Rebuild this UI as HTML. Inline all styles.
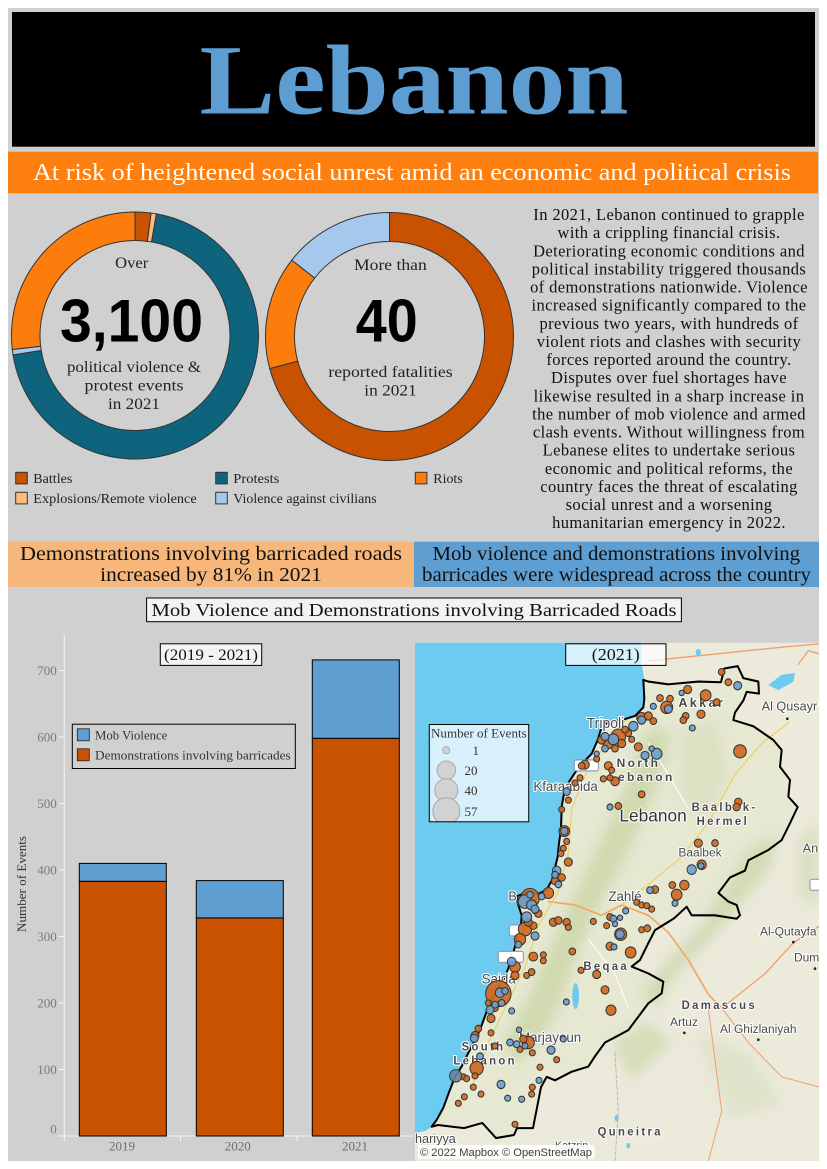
<!DOCTYPE html>
<html><head><meta charset="utf-8">
<style>
html,body{margin:0;padding:0;background:#fff;width:827px;height:1169px;overflow:hidden}
svg{display:block}
</style></head>
<body>
<svg width="827" height="1169" viewBox="0 0 827 1169" xmlns="http://www.w3.org/2000/svg">
<defs>
<clipPath id="mapclip"><rect x="415" y="642.7" width="404" height="518.3"/></clipPath>
<clipPath id="legclip"><rect x="429.3" y="724.5" width="99.4" height="97.3"/></clipPath>
<filter id="soft" x="-20%" y="-20%" width="140%" height="140%"><feGaussianBlur stdDeviation="18"/></filter>
</defs>
<rect x="8" y="8" width="811" height="1153" fill="#d0d0d0"/>
<!-- header -->
<rect x="12" y="12" width="803" height="134.7" fill="#000"/>
<text x="414" y="113.3" text-anchor="middle" font-family="'Liberation Serif',serif" font-weight="bold" font-size="100" fill="#5e9dd2" textLength="429" lengthAdjust="spacingAndGlyphs">Lebanon</text>
<rect x="8" y="151.7" width="810" height="41.6" fill="#fd7f0f"/>
<text x="412" y="180" text-anchor="middle" font-family="'Liberation Serif',serif" font-size="24" fill="#fff" textLength="758" lengthAdjust="spacingAndGlyphs">At risk of heightened social unrest amid an economic and political crisis</text>

<!-- donuts -->
<g stroke="#333" stroke-width="1">
<path d="M135,212 A123.5,123.5 0 0 1 151.12,213.06 L147.40,241.32 A95,95 0 0 0 135,240.5 Z" fill="#c85200"/>
<path d="M151.12,213.06 A123.5,123.5 0 0 1 156.44,213.88 L151.49,241.94 A95,95 0 0 0 147.40,241.32 Z" fill="#ffbc79"/>
<path d="M156.44,213.88 A123.5,123.5 0 1 1 13.02,354.82 L41.17,350.36 A95,95 0 1 0 151.49,241.94 Z" fill="#0f647d"/>
<path d="M13.02,354.82 A123.5,123.5 0 0 1 12.29,349.48 L40.61,346.25 A95,95 0 0 0 41.17,350.36 Z" fill="#a5c8ec"/>
<path d="M12.29,349.48 A123.5,123.5 0 0 1 135,212 L135,240.5 A95,95 0 0 0 40.61,346.25 Z" fill="#fc7d0b"/>
<path d="M389.5,212.5 A124,124 0 1 1 269.73,368.59 L297.74,361.09 A95,95 0 1 0 389.5,241.5 Z" fill="#c85200"/>
<path d="M269.73,368.59 A124,124 0 0 1 291.79,260.15 L314.64,278.01 A95,95 0 0 0 297.74,361.09 Z" fill="#fc7d0b"/>
<path d="M291.79,260.15 A124,124 0 0 1 389.5,212.5 L389.5,241.5 A95,95 0 0 0 314.64,278.01 Z" fill="#a5c8ec"/>
</g>
<g font-family="'Liberation Serif',serif" fill="#222" text-anchor="middle" font-size="16">
<text x="131.7" y="268" textLength="33" lengthAdjust="spacingAndGlyphs">Over</text>
<text x="134" y="372" textLength="134" lengthAdjust="spacingAndGlyphs">political violence &amp;</text>
<text x="134" y="390.5" textLength="99" lengthAdjust="spacingAndGlyphs">protest events</text>
<text x="134" y="409" textLength="52" lengthAdjust="spacingAndGlyphs">in 2021</text>
<text x="390.4" y="270" textLength="72.7" lengthAdjust="spacingAndGlyphs">More than</text>
<text x="390.5" y="377" textLength="124.3" lengthAdjust="spacingAndGlyphs">reported fatalities</text>
<text x="390.5" y="395.5" textLength="52.4" lengthAdjust="spacingAndGlyphs">in 2021</text>
</g>
<g font-family="'Liberation Sans',sans-serif" font-weight="bold" font-size="60" fill="#000" text-anchor="middle">
<text x="131.5" y="341.7" textLength="143" lengthAdjust="spacingAndGlyphs">3,100</text>
<text x="386.8" y="341.7" textLength="62" lengthAdjust="spacingAndGlyphs">40</text>
</g>
<!-- donut legend -->
<g stroke="#333" stroke-width="1">
<rect x="15.7" y="472.3" width="11.6" height="11.6" fill="#c85200"/>
<rect x="215.7" y="472.3" width="11.6" height="11.6" fill="#0f647d"/>
<rect x="415.3" y="472.3" width="11.6" height="11.6" fill="#fc7d0b"/>
<rect x="15.7" y="492.3" width="11.6" height="11.6" fill="#ffbc79"/>
<rect x="215.7" y="492.3" width="11.6" height="11.6" fill="#a5c8ec"/>
</g>
<g font-family="'Liberation Serif',serif" fill="#222" font-size="14">
<text x="33.3" y="483" textLength="39" lengthAdjust="spacingAndGlyphs">Battles</text>
<text x="233.3" y="483" textLength="46" lengthAdjust="spacingAndGlyphs">Protests</text>
<text x="433.3" y="483" textLength="29.4" lengthAdjust="spacingAndGlyphs">Riots</text>
<text x="33.3" y="503" textLength="163.4" lengthAdjust="spacingAndGlyphs">Explosions/Remote violence</text>
<text x="233.3" y="503" textLength="143.4" lengthAdjust="spacingAndGlyphs">Violence against civilians</text>
</g>
<!-- paragraph -->
<g font-family="'Liberation Serif',serif" fill="#111" font-size="16.5" text-anchor="middle" letter-spacing="0.4">
<text x="669" y="220">In 2021, Lebanon continued to grapple</text>
<text x="669" y="238.1">with a crippling financial crisis.</text>
<text x="669" y="256.3">Deteriorating economic conditions and</text>
<text x="669" y="274.4">political instability triggered thousands</text>
<text x="669" y="292.5">of demonstrations nationwide. Violence</text>
<text x="669" y="310.7">increased significantly compared to the</text>
<text x="669" y="328.8">previous two years, with hundreds of</text>
<text x="669" y="346.9">violent riots and clashes with security</text>
<text x="669" y="365">forces reported around the country.</text>
<text x="669" y="383.2">Disputes over fuel shortages have</text>
<text x="669" y="401.3">likewise resulted in a sharp increase in</text>
<text x="669" y="419.4">the number of mob violence and armed</text>
<text x="669" y="437.6">clash events. Without willingness from</text>
<text x="669" y="455.7">Lebanese elites to undertake serious</text>
<text x="669" y="473.8">economic and political reforms, the</text>
<text x="669" y="492">country faces the threat of escalating</text>
<text x="669" y="510.1">social unrest and a worsening</text>
<text x="669" y="528.2">humanitarian emergency in 2022.</text>
</g>
<!-- banners -->
<rect x="8" y="541.7" width="406" height="45.3" fill="#f7b77a"/>
<rect x="414" y="541.7" width="405" height="45.3" fill="#5f9ed1"/>
<g font-family="'Liberation Serif',serif" fill="#111" font-size="19.5" text-anchor="middle">
<text x="211" y="560" textLength="382" lengthAdjust="spacingAndGlyphs">Demonstrations involving barricaded roads</text>
<text x="211" y="581" textLength="221.7" lengthAdjust="spacingAndGlyphs">increased by 81% in 2021</text>
<text x="616.3" y="560" textLength="367.5" lengthAdjust="spacingAndGlyphs">Mob violence and demonstrations involving</text>
<text x="616.5" y="581" textLength="389" lengthAdjust="spacingAndGlyphs">barricades were widespread across the country</text>
</g>
<rect x="146.6" y="598" width="534.8" height="23.7" fill="#f3f3f3" stroke="#000" stroke-width="1"/>
<text x="414" y="616" text-anchor="middle" font-family="'Liberation Serif',serif" font-size="18" fill="#111" textLength="525" lengthAdjust="spacingAndGlyphs">Mob Violence and Demonstrations involving Barricaded Roads</text>

<!-- bar chart -->
<g stroke="#f4f4f4" stroke-width="1" fill="none">
<line x1="64.3" y1="635" x2="64.3" y2="1136"/>
<line x1="64" y1="1136" x2="413" y2="1136"/>
<line x1="58.5" y1="670.5" x2="64.3" y2="670.5"/>
<line x1="58.5" y1="737" x2="64.3" y2="737"/>
<line x1="58.5" y1="803.5" x2="64.3" y2="803.5"/>
<line x1="58.5" y1="870" x2="64.3" y2="870"/>
<line x1="58.5" y1="936.5" x2="64.3" y2="936.5"/>
<line x1="58.5" y1="1003" x2="64.3" y2="1003"/>
<line x1="58.5" y1="1069.5" x2="64.3" y2="1069.5"/>
<line x1="58.5" y1="1136" x2="64.3" y2="1136"/>
<line x1="64.3" y1="1136" x2="64.3" y2="1141"/>
<line x1="180.5" y1="1136" x2="180.5" y2="1141"/>
<line x1="297" y1="1136" x2="297" y2="1141"/>
</g>
<g stroke="#000" stroke-width="1">
<rect x="79.3" y="881.3" width="87" height="254.7" fill="#c85200"/>
<rect x="79.3" y="863.4" width="87" height="17.9" fill="#5f9ed1"/>
<rect x="196.3" y="917.9" width="87" height="218.1" fill="#c85200"/>
<rect x="196.3" y="880.6" width="87" height="37.3" fill="#5f9ed1"/>
<rect x="312.3" y="738.3" width="87" height="397.7" fill="#c85200"/>
<rect x="312.3" y="659.9" width="87" height="78.4" fill="#5f9ed1"/>
</g>
<g font-family="'Liberation Serif',serif" fill="#7a7a7a" font-size="13" text-anchor="end">
<text x="56.7" y="675">700</text>
<text x="56.7" y="741.5">600</text>
<text x="56.7" y="808">500</text>
<text x="56.7" y="874.5">400</text>
<text x="56.7" y="941">300</text>
<text x="56.7" y="1007.5">200</text>
<text x="56.7" y="1074">100</text>
<text x="56.7" y="1133.5">0</text>
</g>
<g font-family="'Liberation Serif',serif" fill="#6e6e6e" font-size="13" text-anchor="middle">
<text x="122" y="1150.5">2019</text>
<text x="237.8" y="1150.5">2020</text>
<text x="355" y="1150.5">2021</text>
</g>
<text transform="translate(26,884) rotate(-90)" text-anchor="middle" font-family="'Liberation Serif',serif" font-size="13" fill="#333" textLength="96" lengthAdjust="spacingAndGlyphs">Number of Events</text>
<rect x="160.3" y="643.8" width="101.4" height="21.6" fill="#f3f3f3" stroke="#000" stroke-width="1"/>
<text x="211" y="660" text-anchor="middle" font-family="'Liberation Serif',serif" font-size="16" fill="#111" textLength="94" lengthAdjust="spacingAndGlyphs">(2019 - 2021)</text>
<rect x="72.3" y="724.2" width="223" height="44.3" fill="none" stroke="#000" stroke-width="1"/>
<rect x="77.3" y="728.8" width="12" height="12" fill="#5f9ed1" stroke="#222" stroke-width="0.8"/>
<rect x="77.3" y="748.8" width="12" height="12" fill="#c85200" stroke="#222" stroke-width="0.8"/>
<g font-family="'Liberation Serif',serif" fill="#333" font-size="13">
<text x="95" y="739.3" textLength="72.3" lengthAdjust="spacingAndGlyphs">Mob Violence</text>
<text x="95" y="759.3" textLength="195.7" lengthAdjust="spacingAndGlyphs">Demonstrations involving barricades</text>
</g>

<!-- map -->
<g clip-path="url(#mapclip)">
<g transform="translate(415,630) scale(0.33333,0.34375)">
<rect x="0" y="0" width="1215" height="1560" fill="#ebeadb"/>
<path d="M685,145 L700,150 L760,158 L850,150 L918,152 L928,112 L968,105 L985,140 L1030,150 L1032,185 L995,180 L985,205 L960,240 L955,262 L1015,280 L1075,320 L1100,349 L1095,398 L1125,436 L1120,485 L1148,515 L1125,562 L1100,611 L1060,640 L1040,650 L1000,670 L990,700 L945,720 L910,765 L940,790 L965,800 L975,830 L965,840 L900,830 L830,830 L815,805 L777,839 L720,873 L700,911 L675,960 L650,979 L700,999 L745,1023 L740,1057 L700,1086 L670,1125 L640,1164 L600,1185 L570,1200 L540,1240 L520,1270 L470,1285 L420,1310 L395,1300 L378,1330 L354,1449 L306,1449 L297,1469 L243,1478 L202,1434 L147,1449 L69,1440 L50,1445 L65,1425 L85,1390 L100,1350 L120,1300 L140,1270 L160,1230 L185,1185 L200,1150 L215,1110 L230,1080 L250,1040 L270,1010 L285,970 L295,940 L305,900 L318,860 L320,830 L310,800 L305,775 L330,765 L370,768 L395,755 L410,730 L418,700 L428,660 L432,620 L438,580 L440,514 L448,470 L460,445 L480,415 L505,385 L530,360 L548,320 L560,282 L580,268 L620,262 L660,250 L685,225 L688,200 Z" fill="#e6e8d2"/>
<!-- relief (soft) -->
<g filter="url(#soft)">
<path d="M700,280 L770,300 L730,450 L660,600 L610,700 L550,800 L480,950 L430,1100 L370,1200 L300,1270 L265,1200 L335,1080 L395,950 L455,820 L515,700 L575,580 L635,450 Z" fill="#c9d4a4" opacity="0.75"/>
<path d="M1000,640 L1085,600 L1060,700 L955,820 L885,900 L785,1000 L725,1100 L680,1060 L760,960 L860,860 Z" fill="#c9d4a4" opacity="0.7"/>
<path d="M590,1200 L700,1140 L770,1200 L650,1310 Z" fill="#c9d4a4" opacity="0.6"/>
<path d="M1150,600 L1215,560 L1215,800 L1150,780 Z" fill="#d0d8b4" opacity="0.6"/>
<path d="M840,1180 L1000,1230 L1100,1380 L950,1420 Z" fill="#d8ddc0" opacity="0.6"/>
<path d="M800,300 L900,260 L940,420 L860,560 L800,480 Z" fill="#d6dcb8" opacity="0.6"/>
</g>
<!-- roads -->
<g fill="none" stroke-linecap="round" stroke-linejoin="round">
<path d="M400,790 L480,800 L560,830 L620,800 L700,830 L760,880 L820,960 L880,1060 L920,1100" stroke="#f0a862" stroke-width="5"/>
<path d="M690,200 L600,300 L520,400 L470,520 L460,650 L430,760 L370,860 L330,980 L280,1080 L220,1200 L170,1330" stroke="#f2cf70" stroke-width="4"/>
<path d="M620,800 L700,740 L800,660 L880,560 L960,420 L1040,330 L1120,270" stroke="#f2cf70" stroke-width="4"/>
<path d="M700,90 L900,70 L1100,50 L1215,40" stroke="#f0a070" stroke-width="4"/>
<path d="M1150,100 L1180,60 L1215,70" stroke="#f0a070" stroke-width="4"/>
<path d="M920,1100 L1050,1000 L1135,910 L1215,860" stroke="#f0a070" stroke-width="4"/>
<path d="M880,1100 L900,1250 L920,1400 L880,1545" stroke="#f0a070" stroke-width="3"/>
<path d="M920,1100 L1000,1200 L1100,1300 L1215,1330" stroke="#f0a070" stroke-width="3"/>
<path d="M600,1230 L610,1400 L600,1545" stroke="#b8b8c8" stroke-width="3" stroke-dasharray="10,6"/>
<path d="M700,330 L760,420 L820,520" stroke="#ffffff" stroke-width="3"/>
<path d="M520,900 L600,1000 L640,1100" stroke="#ffffff" stroke-width="3"/>
</g>
<!-- lakes -->
<ellipse cx="482" cy="1065" rx="10" ry="38" fill="#6ccbee"/>
<path d="M1060,160 L1100,130 L1140,125 L1135,150 L1090,175 Z" fill="#6ccbee"/>
<ellipse cx="850" cy="65" rx="8" ry="10" fill="#6ccbee"/>
<ellipse cx="605" cy="1420" rx="6" ry="10" fill="#6ccbee"/>
<ellipse cx="640" cy="1500" rx="6" ry="8" fill="#6ccbee"/>
<!-- ocean -->
<path d="M0,0 L676,0 L680,100 L688,145 L688,200 L685,225 L660,250 L620,262 L580,268 L560,282 L548,320 L530,360 L505,385 L480,415 L460,445 L448,470 L440,514 L438,580 L432,620 L428,660 L418,700 L410,730 L395,755 L370,768 L330,765 L305,775 L310,800 L320,830 L318,860 L305,900 L295,940 L285,970 L270,1010 L250,1040 L230,1080 L215,1110 L200,1150 L185,1185 L160,1230 L140,1270 L120,1300 L100,1350 L85,1390 L65,1425 L50,1445 L30,1458 L0,1462 Z" fill="#6ccbee"/>
<!-- border -->
<path d="M685,145 L700,150 L760,158 L850,150 L918,152 L928,112 L968,105 L985,140 L1030,150 L1032,185 L995,180 L985,205 L960,240 L955,262 L1015,280 L1075,320 L1100,349 L1095,398 L1125,436 L1120,485 L1148,515 L1125,562 L1100,611 L1060,640 L1040,650 L1000,670 L990,700 L945,720 L910,765 L940,790 L965,800 L975,830 L965,840 L900,830 L830,830 L815,805 L777,839 L720,873 L700,911 L675,960 L650,979 L700,999 L745,1023 L740,1057 L700,1086 L670,1125 L640,1164 L600,1185 L570,1200 L540,1240 L520,1270 L470,1285 L420,1310 L395,1300 L378,1330 L354,1449 L306,1449 L297,1469 L243,1478 L202,1434 L147,1449 L69,1440 L50,1445 L65,1425 L85,1390 L100,1350 L120,1300 L140,1270 L160,1230 L185,1185 L200,1150 L215,1110 L230,1080 L250,1040 L270,1010 L285,970 L295,940 L305,900 L318,860 L320,830 L310,800 L305,775 L330,765 L370,768 L395,755 L410,730 L418,700 L428,660 L432,620 L438,580 L440,514 L448,470 L460,445 L480,415 L505,385 L530,360 L548,320 L560,282 L580,268 L620,262 L660,250 L685,225 L688,200 Z" fill="none" stroke="#000" stroke-width="6" stroke-linejoin="round"/>
<!-- road shields -->
<g fill="#fff" stroke="#8890b0" stroke-width="3">
<rect x="478" y="378" width="72" height="32" rx="6"/>
<rect x="283" y="858" width="40" height="32" rx="6"/>
<rect x="250" y="935" width="75" height="32" rx="6"/>
<rect x="1185" y="725" width="40" height="32" rx="6"/>
</g>
<!-- labels -->
<g font-family="'Liberation Sans',sans-serif" fill="#4a4a4a" stroke="#fff" stroke-width="6" paint-order="stroke" stroke-linejoin="round">
<text x="1040" y="234" font-size="38">Al Qusayr</text>
<text x="790" y="224" font-size="38" font-weight="bold" letter-spacing="7">Akkar</text>
<text x="515" y="285" font-size="42">Tripoli</text>
<text x="605" y="399" font-size="36" font-weight="bold" letter-spacing="7">North</text>
<text x="580" y="439" font-size="36" font-weight="bold" letter-spacing="7">Lebanon</text>
<text x="355" y="469" font-size="40">Kfaraabida</text>
<text x="613" y="557" font-size="52" fill="#333">Lebanon</text>
<text x="830" y="527" font-size="34" font-weight="bold" letter-spacing="7">Baalbek-</text>
<text x="845" y="567" font-size="34" font-weight="bold" letter-spacing="7">Hermel</text>
<text x="790" y="659" font-size="36">Baalbek</text>
<text x="1163" y="647" font-size="38">An</text>
<text x="580" y="789" font-size="40">Zahlé</text>
<text x="1035" y="889" font-size="36">Al-Qutayfa</text>
<text x="1137" y="964" font-size="36">Dum</text>
<text x="505" y="989" font-size="34" font-weight="bold" letter-spacing="7">Beqaa</text>
<text x="200" y="1029" font-size="40">Saida</text>
<text x="312" y="1199" font-size="40">Marjayoun</text>
<text x="140" y="1224" font-size="34" font-weight="bold" letter-spacing="7">South</text>
<text x="115" y="1264" font-size="34" font-weight="bold" letter-spacing="7">Lebanon</text>
<text x="800" y="1102" font-size="34" font-weight="bold" letter-spacing="7">Damascus</text>
<text x="765" y="1152" font-size="36">Artuz</text>
<text x="915" y="1172" font-size="36">Al Ghizlaniyah</text>
<text x="548" y="1470" font-size="34" font-weight="bold" letter-spacing="7">Quneitra</text>
<text x="0" y="1492" font-size="38">hariyya</text>
<text x="420" y="1510" font-size="32">Katzrin</text>
<text x="280" y="787" font-size="38">B</text>
</g>
<g fill="#222">
<circle cx="1117" cy="258" r="4"/><circle cx="1135" cy="908" r="4"/><circle cx="1200" cy="985" r="4"/><circle cx="808" cy="1172" r="4"/><circle cx="1030" cy="1192" r="4"/>
</g>
<!-- event circles -->
<g stroke="#333" stroke-width="3" fill-opacity="0.92">
<circle cx="250" cy="1058" r="38" fill="#d06820"/>
<circle cx="345" cy="780" r="28" fill="#d06820"/>
<circle cx="975" cy="353" r="19" fill="#d06820"/>
<circle cx="610" cy="310" r="22" fill="#d06820"/>
<circle cx="872" cy="190" r="16" fill="#d06820"/>
<circle cx="185" cy="1275" r="20" fill="#d06820"/>
<circle cx="340" cy="1200" r="18" fill="#d06820"/>
<circle cx="330" cy="870" r="20" fill="#d06820"/>
<circle cx="315" cy="900" r="17" fill="#d06820"/>
<circle cx="755" cy="225" r="18" fill="#d06820"/>
<circle cx="785" cy="770" r="16" fill="#d06820"/>
<circle cx="647" cy="938" r="16" fill="#d06820"/>
<circle cx="617" cy="885" r="18" fill="#d06820"/>
<circle cx="588" cy="1106" r="15" fill="#d06820"/>
<circle cx="680" cy="255" r="15" fill="#d06820"/>
<circle cx="580" cy="330" r="15" fill="#d06820"/>
<circle cx="400" cy="765" r="16" fill="#d06820"/>
<circle cx="860" cy="683" r="14" fill="#d06820"/>
<circle cx="808" cy="742" r="14" fill="#d06820"/>
<circle cx="300" cy="980" r="16" fill="#d06820"/>
<circle cx="448" cy="585" r="16" fill="#d06820"/>
<circle cx="920" cy="122" r="10" fill="#d06820"/><circle cx="940" cy="152" r="10" fill="#d06820"/><circle cx="818" cy="173" r="12" fill="#d06820"/><circle cx="905" cy="210" r="10" fill="#d06820"/><circle cx="735" cy="198" r="10" fill="#d06820"/><circle cx="765" cy="200" r="10" fill="#d06820"/><circle cx="812" cy="250" r="10" fill="#d06820"/><circle cx="805" cy="262" r="10" fill="#d06820"/><circle cx="858" cy="245" r="12" fill="#d06820"/><circle cx="700" cy="250" r="12" fill="#d06820"/><circle cx="715" cy="265" r="10" fill="#d06820"/><circle cx="640" cy="300" r="10" fill="#d06820"/><circle cx="650" cy="318" r="9" fill="#d06820"/><circle cx="670" cy="340" r="12" fill="#d06820"/><circle cx="600" cy="345" r="10" fill="#d06820"/><circle cx="545" cy="375" r="9" fill="#d06820"/><circle cx="580" cy="395" r="12" fill="#d06820"/><circle cx="510" cy="392" r="13" fill="#d06820"/><circle cx="500" cy="395" r="10" fill="#d06820"/><circle cx="590" cy="408" r="9" fill="#d06820"/><circle cx="600" cy="440" r="13" fill="#d06820"/><circle cx="565" cy="433" r="9" fill="#d06820"/><circle cx="585" cy="430" r="9" fill="#d06820"/><circle cx="495" cy="430" r="9" fill="#d06820"/><circle cx="480" cy="445" r="9" fill="#d06820"/><circle cx="460" cy="495" r="9" fill="#d06820"/><circle cx="440" cy="522" r="9" fill="#d06820"/><circle cx="680" cy="478" r="10" fill="#d06820"/><circle cx="610" cy="512" r="10" fill="#d06820"/><circle cx="970" cy="500" r="11" fill="#d06820"/><circle cx="965" cy="515" r="11" fill="#d06820"/><circle cx="455" cy="615" r="9" fill="#d06820"/><circle cx="445" cy="635" r="9" fill="#d06820"/><circle cx="438" cy="650" r="9" fill="#d06820"/><circle cx="460" cy="675" r="12" fill="#d06820"/><circle cx="440" cy="720" r="11" fill="#d06820"/><circle cx="420" cy="730" r="11" fill="#d06820"/><circle cx="850" cy="620" r="12" fill="#d06820"/><circle cx="900" cy="620" r="10" fill="#d06820"/><circle cx="370" cy="825" r="11" fill="#d06820"/><circle cx="355" cy="860" r="11" fill="#d06820"/><circle cx="415" cy="850" r="12" fill="#d06820"/><circle cx="430" cy="845" r="11" fill="#d06820"/><circle cx="455" cy="850" r="11" fill="#d06820"/><circle cx="460" cy="865" r="9" fill="#d06820"/><circle cx="535" cy="848" r="9" fill="#d06820"/><circle cx="575" cy="860" r="9" fill="#d06820"/><circle cx="585" cy="835" r="10" fill="#d06820"/><circle cx="665" cy="792" r="9" fill="#d06820"/><circle cx="680" cy="800" r="9" fill="#d06820"/><circle cx="695" cy="802" r="9" fill="#d06820"/><circle cx="710" cy="812" r="9" fill="#d06820"/><circle cx="720" cy="755" r="11" fill="#d06820"/><circle cx="772" cy="742" r="10" fill="#d06820"/><circle cx="585" cy="920" r="12" fill="#d06820"/><circle cx="472" cy="935" r="10" fill="#d06820"/><circle cx="680" cy="872" r="9" fill="#d06820"/><circle cx="697" cy="868" r="10" fill="#d06820"/><circle cx="355" cy="950" r="13" fill="#d06820"/><circle cx="385" cy="945" r="9" fill="#d06820"/><circle cx="385" cy="962" r="9" fill="#d06820"/><circle cx="300" cy="1005" r="12" fill="#d06820"/><circle cx="335" cy="1005" r="9" fill="#d06820"/><circle cx="350" cy="995" r="10" fill="#d06820"/><circle cx="498" cy="990" r="9" fill="#d06820"/><circle cx="545" cy="1002" r="12" fill="#d06820"/><circle cx="570" cy="1047" r="12" fill="#d06820"/><circle cx="228" cy="1130" r="12" fill="#d06820"/><circle cx="190" cy="1160" r="10" fill="#d06820"/><circle cx="180" cy="1180" r="12" fill="#d06820"/><circle cx="228" cy="1172" r="9" fill="#d06820"/><circle cx="325" cy="1190" r="11" fill="#d06820"/><circle cx="352" cy="1230" r="9" fill="#d06820"/><circle cx="315" cy="1220" r="9" fill="#d06820"/><circle cx="240" cy="1210" r="9" fill="#d06820"/><circle cx="180" cy="1297" r="9" fill="#d06820"/><circle cx="145" cy="1300" r="9" fill="#d06820"/><circle cx="155" cy="1305" r="9" fill="#d06820"/><circle cx="425" cy="1250" r="9" fill="#d06820"/><circle cx="375" cy="1272" r="9" fill="#d06820"/><circle cx="175" cy="1330" r="9" fill="#d06820"/><circle cx="198" cy="1350" r="9" fill="#d06820"/><circle cx="352" cy="1330" r="9" fill="#d06820"/><circle cx="350" cy="1350" r="9" fill="#d06820"/><circle cx="148" cy="1358" r="9" fill="#d06820"/><circle cx="130" cy="1377" r="9" fill="#d06820"/><circle cx="300" cy="1438" r="9" fill="#d06820"/><circle cx="630" cy="290" r="10" fill="#d06820"/><circle cx="620" cy="330" r="12" fill="#d06820"/><circle cx="560" cy="320" r="12" fill="#d06820"/><circle cx="240" cy="1100" r="10" fill="#d06820"/><circle cx="220" cy="1085" r="9" fill="#d06820"/><circle cx="360" cy="815" r="10" fill="#d06820"/><circle cx="320" cy="790" r="14" fill="#d06820"/><circle cx="340" cy="850" r="12" fill="#d06820"/>
<circle cx="330" cy="790" r="20" fill="#6ea0cd"/>
<circle cx="760" cy="230" r="12" fill="#6ea0cd"/>
<circle cx="615" cy="885" r="13" fill="#6ea0cd"/>
<circle cx="725" cy="360" r="16" fill="#6ea0cd"/>
<circle cx="655" cy="280" r="14" fill="#6ea0cd"/>
<circle cx="595" cy="318" r="16" fill="#6ea0cd"/>
<circle cx="858" cy="686" r="9" fill="#6ea0cd"/>
<circle cx="830" cy="697" r="14" fill="#6ea0cd"/>
<circle cx="448" cy="585" r="11" fill="#6ea0cd"/>
<circle cx="425" cy="700" r="13" fill="#6ea0cd"/>
<circle cx="290" cy="965" r="13" fill="#6ea0cd"/>
<circle cx="335" cy="835" r="15" fill="#6ea0cd"/>
<circle cx="255" cy="1055" r="14" fill="#6ea0cd"/>
<circle cx="122" cy="1297" r="18" fill="#6a86a0"/>
<circle cx="968" cy="162" r="12" fill="#6ea0cd"/><circle cx="715" cy="222" r="9" fill="#6ea0cd"/><circle cx="800" cy="183" r="8" fill="#6ea0cd"/><circle cx="832" cy="285" r="9" fill="#6ea0cd"/><circle cx="680" cy="262" r="12" fill="#6ea0cd"/><circle cx="570" cy="310" r="12" fill="#6ea0cd"/><circle cx="570" cy="345" r="10" fill="#6ea0cd"/><circle cx="690" cy="365" r="12" fill="#6ea0cd"/><circle cx="710" cy="345" r="8" fill="#6ea0cd"/><circle cx="545" cy="360" r="8" fill="#6ea0cd"/><circle cx="455" cy="470" r="11" fill="#6ea0cd"/><circle cx="585" cy="515" r="9" fill="#6ea0cd"/><circle cx="430" cy="740" r="10" fill="#6ea0cd"/><circle cx="380" cy="775" r="10" fill="#6ea0cd"/><circle cx="350" cy="800" r="15" fill="#6ea0cd"/><circle cx="360" cy="812" r="12" fill="#6ea0cd"/><circle cx="360" cy="890" r="12" fill="#6ea0cd"/><circle cx="310" cy="915" r="10" fill="#6ea0cd"/><circle cx="595" cy="840" r="10" fill="#6ea0cd"/><circle cx="615" cy="837" r="8" fill="#6ea0cd"/><circle cx="632" cy="817" r="9" fill="#6ea0cd"/><circle cx="600" cy="855" r="8" fill="#6ea0cd"/><circle cx="705" cy="757" r="10" fill="#6ea0cd"/><circle cx="780" cy="795" r="9" fill="#6ea0cd"/><circle cx="597" cy="922" r="9" fill="#6ea0cd"/><circle cx="270" cy="1050" r="10" fill="#6ea0cd"/><circle cx="240" cy="1090" r="10" fill="#6ea0cd"/><circle cx="260" cy="1085" r="10" fill="#6ea0cd"/><circle cx="454" cy="1082" r="9" fill="#6ea0cd"/><circle cx="225" cy="1105" r="12" fill="#6ea0cd"/><circle cx="290" cy="1108" r="9" fill="#6ea0cd"/><circle cx="178" cy="1188" r="12" fill="#6ea0cd"/><circle cx="312" cy="1163" r="8" fill="#6ea0cd"/><circle cx="330" cy="1210" r="9" fill="#6ea0cd"/><circle cx="305" cy="1205" r="10" fill="#6ea0cd"/><circle cx="285" cy="1200" r="10" fill="#6ea0cd"/><circle cx="408" cy="1222" r="12" fill="#6ea0cd"/><circle cx="445" cy="1190" r="9" fill="#6ea0cd"/><circle cx="195" cy="1240" r="10" fill="#6ea0cd"/><circle cx="372" cy="1310" r="9" fill="#6ea0cd"/><circle cx="258" cy="1322" r="12" fill="#6ea0cd"/><circle cx="278" cy="1362" r="9" fill="#6ea0cd"/><circle cx="320" cy="1365" r="9" fill="#6ea0cd"/><circle cx="420" cy="712" r="10" fill="#6ea0cd"/><circle cx="345" cy="770" r="10" fill="#6ea0cd"/>
</g>
</g>
</g>
<!-- map overlays -->
<rect x="565.7" y="643.8" width="100.3" height="21.6" fill="#ffffff" fill-opacity="0.72" stroke="#000" stroke-width="1"/>
<text x="615.8" y="660" text-anchor="middle" font-family="'Liberation Serif',serif" font-size="17" fill="#111" textLength="48" lengthAdjust="spacingAndGlyphs">(2021)</text>
<rect x="429.3" y="724.5" width="99.4" height="97.3" fill="#d8f0fb"/>
<g clip-path="url(#legclip)" fill="#d2d2d2" stroke="#a8a8a8" stroke-width="1">
<circle cx="446.3" cy="750.3" r="3.5"/>
<circle cx="446.3" cy="770.3" r="9.3"/>
<circle cx="446.3" cy="790.2" r="11.5"/>
<circle cx="446.3" cy="811.2" r="13.5"/>
</g>
<rect x="429.3" y="724.5" width="99.4" height="97.3" fill="none" stroke="#000" stroke-width="1"/>
<g font-family="'Liberation Serif',serif" fill="#333" font-size="13">
<text x="431" y="737.5" textLength="95.7" lengthAdjust="spacingAndGlyphs">Number of Events</text>
<text x="475.7" y="755" text-anchor="middle">1</text>
<text x="471" y="775" text-anchor="middle">20</text>
<text x="471" y="795" text-anchor="middle">40</text>
<text x="471" y="816" text-anchor="middle">57</text>
</g>
<rect x="418" y="1145" width="176.4" height="14" fill="#fff" fill-opacity="0.85"/>
<text x="420" y="1156" font-family="'Liberation Sans',sans-serif" font-size="11" fill="#404040" textLength="172" lengthAdjust="spacingAndGlyphs">© 2022 Mapbox © OpenStreetMap</text>
</svg>
</body></html>
